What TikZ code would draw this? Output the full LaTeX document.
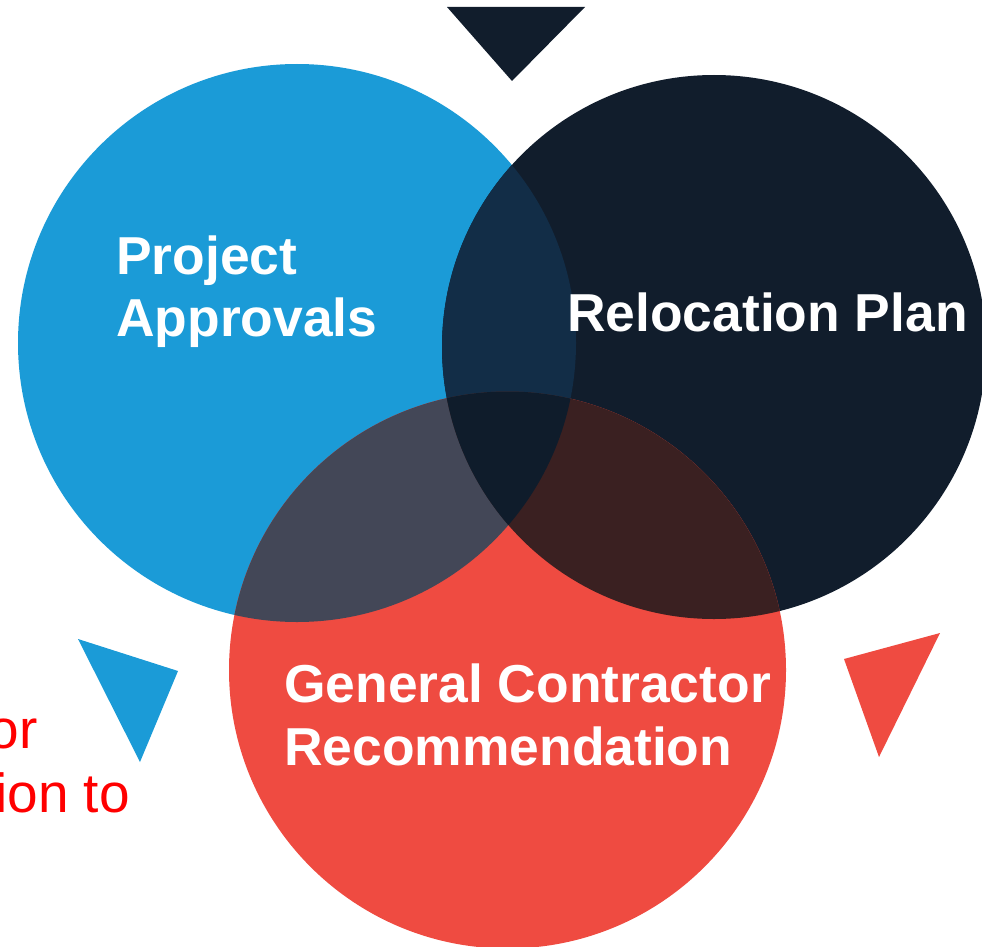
\documentclass[tikz,border=0pt]{standalone}
\usepackage{fontspec}
\setmainfont{Liberation Sans}
\definecolor{cblue}{HTML}{1B9BD7}
\definecolor{cdark}{HTML}{111D2C}
\definecolor{cred}{HTML}{EF4B41}
\definecolor{cbd}{HTML}{122D47}
\definecolor{cbr}{HTML}{434757}
\definecolor{cdr}{HTML}{3A2021}
\definecolor{cbdr}{HTML}{0F1C2B}
\definecolor{ctxt}{HTML}{FF0000}
\tikzset{
  lab/.style={text=white,font=\bfseries\fontsize{53.4}{62}\selectfont,inner sep=0pt,anchor=base west},
  redlab/.style={text=ctxt,font=\fontsize{55}{64}\selectfont,inner sep=0pt,anchor=base east},
}
\begin{document}
\begin{tikzpicture}[x=1pt,y=-1pt]
\useasboundingbox (0,0) rectangle (982,947);
\def\blueC{(297,343) circle (279)}
\def\darkC{(714,347) circle (272)}
\def\redC{(507.5,670) circle (278.5)}
% triangles
\fill[cdark] (447,7) -- (585,7) -- (512,81) -- cycle;
\fill[cblue] (78,639) -- (178,671) -- (140,762) -- cycle;
\fill[cred] (844,659) -- (940,633) -- (879,757) -- cycle;
% circles
\fill[cblue] \blueC;
\fill[cdark] \darkC;
\fill[cred] \redC;
% overlaps
\begin{scope}\clip \blueC; \fill[cbd] \darkC; \end{scope}
\begin{scope}\clip \blueC; \fill[cbr] \redC; \end{scope}
\begin{scope}\clip \darkC; \fill[cdr] \redC; \end{scope}
\begin{scope}\clip \blueC; \clip \darkC; \fill[cbdr] \redC; \end{scope}
% labels
\node[lab] (p1) at (116,274) {Project};
\node[lab] (p2) at (116,336) {Approvals};
\node[lab] (r1) at (567,331) {Relocation Plan};
\node[lab] (g1) at (284,702) {General Contractor};
\node[lab] (g2) at (284,765) {Recommendation};
\node[redlab] (t1) at (38,748) {or};
\node[redlab] (t2) at (130,812) {ion to};
\end{tikzpicture}
\end{document}
